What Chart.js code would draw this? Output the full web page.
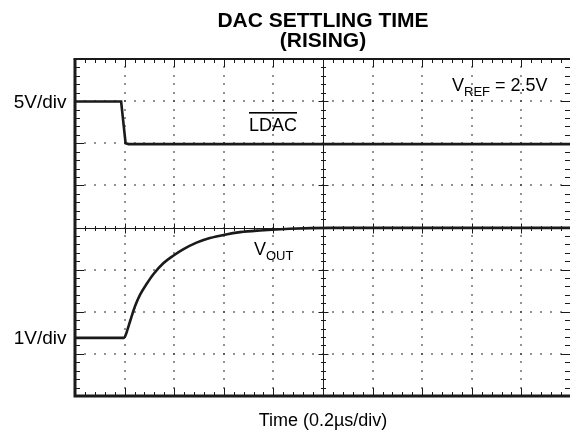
<!DOCTYPE html>
<html>
<head>
<meta charset="utf-8">
<title>DAC Settling Time (Rising)</title>
<script src="https://cdn.jsdelivr.net/npm/chart.js@4.4.1/dist/chart.umd.min.js"></script>
<style>
  body { margin: 0; background: #fff; }
  #scope { display: block; }
</style>
</head>
<body>
<canvas id="scope" width="570" height="433"></canvas>
<script>
// screen units: x and y in divisions (10 x 8 graticule, centre = 0 on y)
var ldacX = [0, 0.93, 1.02, 1.08, 10];
var ldacY = [2.99, 2.99, 2.0, 1.98, 1.98];

var voutX = [0, 0.99, 1.02, 1.06, 1.12, 1.21, 1.31, 1.45, 1.58, 1.78, 1.98, 2.18, 2.45, 2.72, 3.02, 3.33, 3.73, 4.33, 5.14, 10];
var voutY = [-2.62, -2.62, -2.56, -2.42, -2.19, -1.87, -1.60, -1.33, -1.11, -0.85, -0.67, -0.52, -0.36, -0.25, -0.17, -0.11, -0.07, -0.03, -0.01, -0.01];

var channelLabels = ['5V/div', '1V/div'];
var channelLevels = [2.99, -2.62];

var titleLines = ['DAC SETTLING TIME', '(RISING)'];
var xTitle = 'Time (0.2\u00b5s/div)';

var FONT = '"Liberation Sans", Arial, Helvetica, sans-serif';
var INK = '#1a1a1a';

function toPoints(xs, ys) {
    var out = [];
    for (var i = 0; i < xs.length; i++) out.push({x: xs[i], y: ys[i]});
    return out;
}

// graticule: border, dotted grid, centre crosshair with ticks
var scopeGrid = {
    id: 'scopeGrid',
    beforeDatasetsDraw: function(chart) {
        var ctx = chart.ctx, a = chart.chartArea;
        var xs = chart.scales.x, ys = chart.scales.y;
        var k, i, px, py, len;
        ctx.save();

        // dots every 0.2 div along each inner division line
        ctx.fillStyle = '#222';
        for (i = 1; i < 10; i++) {
            if (i === 5) continue;
            px = Math.round(xs.getPixelForValue(i));
            for (k = -20; k <= 20; k++) {
                py = Math.round(ys.getPixelForValue(k / 5));
                ctx.fillRect(px - 0.7, py - 0.7, 1.4, 1.4);
            }
        }
        for (i = -3; i <= 3; i++) {
            if (i === 0) continue;
            py = Math.round(ys.getPixelForValue(i));
            for (k = 0; k <= 50; k++) {
                px = Math.round(xs.getPixelForValue(k / 5));
                ctx.fillRect(px - 0.7, py - 0.7, 1.4, 1.4);
            }
        }

        // centre crosshair
        var cx = Math.round(xs.getPixelForValue(5)) + 0.5;
        var cy = Math.round(ys.getPixelForValue(0)) + 0.5;
        ctx.strokeStyle = INK;
        ctx.lineWidth = 1;
        ctx.beginPath();
        ctx.moveTo(a.left, cy); ctx.lineTo(a.right, cy);
        ctx.moveTo(cx, a.top); ctx.lineTo(cx, a.bottom);
        for (k = 0; k <= 50; k++) {
            px = Math.round(xs.getPixelForValue(k / 5)) + 0.5;
            len = (k % 5 === 0) ? 5 : 2.5;
            ctx.moveTo(px, cy - len); ctx.lineTo(px, cy + len);
            // top and bottom border ticks
            len = (k % 5 === 0) ? 8 : 4;
            ctx.moveTo(px, a.top); ctx.lineTo(px, a.top + len);
            ctx.moveTo(px, a.bottom); ctx.lineTo(px, a.bottom - len);
        }
        for (k = -20; k <= 20; k++) {
            py = Math.round(ys.getPixelForValue(k / 5)) + 0.5;
            len = (k % 5 === 0) ? 5 : 2.5;
            ctx.moveTo(cx - len, py); ctx.lineTo(cx + len, py);
            len = (k % 5 === 0) ? 9 : 5;
            ctx.moveTo(a.left, py); ctx.lineTo(a.left + len, py);
            ctx.moveTo(a.right, py); ctx.lineTo(a.right - len, py);
        }
        ctx.stroke();

        // frame
        ctx.lineWidth = 3;
        ctx.beginPath();
        ctx.moveTo(a.left, a.top); ctx.lineTo(a.left, a.bottom + 1.5);
        ctx.moveTo(a.left - 1.5, a.bottom); ctx.lineTo(a.right, a.bottom);
        ctx.stroke();
        ctx.lineWidth = 2;
        ctx.beginPath();
        ctx.moveTo(a.left - 1.5, a.top); ctx.lineTo(a.right, a.top);
        ctx.stroke();
        ctx.restore();
    },
    afterDraw: function(chart) {
        var ctx = chart.ctx, a = chart.chartArea;
        var xs = chart.scales.x, ys = chart.scales.y;
        var mid = xs.getPixelForValue(5);
        ctx.save();
        ctx.fillStyle = '#000';

        ctx.font = 'bold 21px ' + FONT;
        ctx.textAlign = 'center';
        ctx.textBaseline = 'alphabetic';
        ctx.fillText(titleLines[0], mid, 27);
        ctx.fillText(titleLines[1], mid, 47);

        ctx.font = '18px ' + FONT;
        ctx.fillText(xTitle, mid, 426);

        ctx.font = '19px ' + FONT;
        ctx.textAlign = 'right';
        for (var i = 0; i < channelLabels.length; i++) {
            ctx.fillText(channelLabels[i], a.left - 8.5, ys.getPixelForValue(channelLevels[i]) + 6.5);
        }

        // LDAC with overbar
        ctx.font = '18px ' + FONT;
        ctx.textAlign = 'left';
        var lx = 249, lw = ctx.measureText('LDAC').width;
        ctx.fillText('LDAC', lx, 131);
        ctx.fillRect(lx, 112, lw, 1.6);

        // V_OUT
        drawSub(ctx, 'V', 'OUT', ' ', 254, 255);
        // V_REF = 2.5V
        drawSub(ctx, 'V', 'REF', ' = 2.5V', 452, 91);
        ctx.restore();
    }
};

function drawSub(ctx, main, sub, rest, x, y) {
    ctx.font = '18px ' + FONT;
    ctx.fillText(main, x, y);
    x += ctx.measureText(main).width;
    ctx.font = '13px ' + FONT;
    ctx.fillText(sub, x, y + 4.5);
    x += ctx.measureText(sub).width;
    ctx.font = '18px ' + FONT;
    ctx.fillText(rest, x, y);
}

var ctx = document.getElementById('scope').getContext('2d');
var scopeChart = new Chart(ctx, {
    type: 'line',
    data: {
        datasets: [
            {
                label: 'LDAC',
                data: toPoints(ldacX, ldacY),
                borderColor: INK,
                borderWidth: 2.6,
                pointRadius: 0,
                tension: 0,
                fill: false
            },
            {
                label: 'VOUT',
                data: toPoints(voutX, voutY),
                borderColor: INK,
                borderWidth: 2.6,
                pointRadius: 0,
                cubicInterpolationMode: 'monotone',
                fill: false
            }
        ]
    },
    options: {
        responsive: false,
        animation: false,
        layout: { padding: { left: 75, top: 59, right: 0, bottom: 37 } },
        plugins: {
            legend: { display: false },
            title: { display: false },
            tooltip: { enabled: false }
        },
        scales: {
            x: { type: 'linear', min: 0, max: 9.98, display: false },
            y: { type: 'linear', min: -4, max: 4, display: false }
        }
    },
    plugins: [scopeGrid]
});
</script>
</body>
</html>
